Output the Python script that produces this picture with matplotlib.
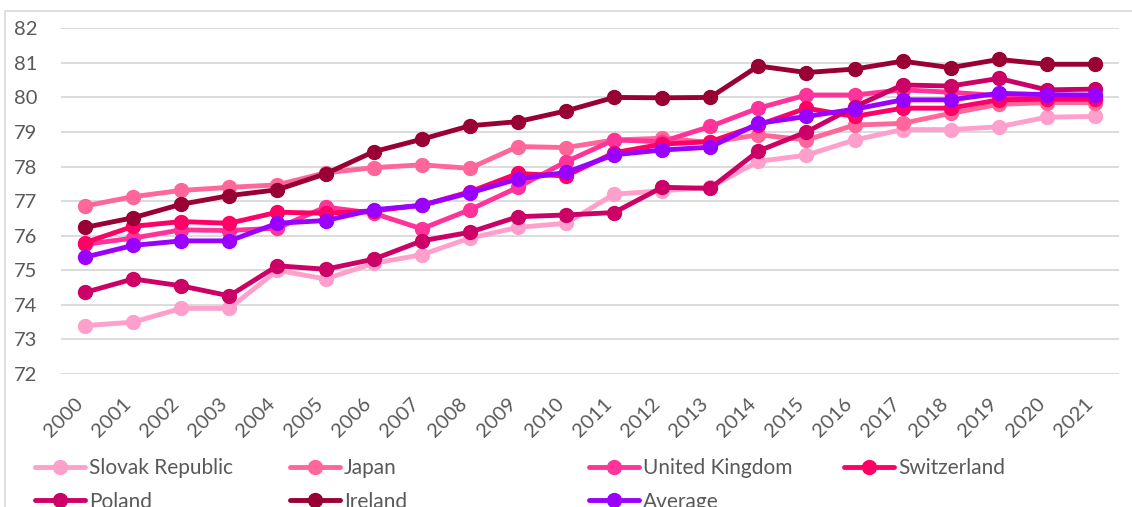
import matplotlib
matplotlib.use("Agg")
import matplotlib.pyplot as plt
from matplotlib.patches import Rectangle
from matplotlib.transforms import ScaledTranslation

plt.rcParams['font.family'] = ['Lato', 'DejaVu Sans']

years = [str(y) for y in range(2000, 2022)]

slovak = [73.4, 73.5, 73.9, 73.9, 75.0, 74.75, 75.2, 75.45, 75.93, 76.24, 76.36,
          77.2, 77.3, 77.4, 78.15, 78.33, 78.77, 79.07, 79.07, 79.15, 79.43, 79.45]
japan = [76.86, 77.13, 77.31, 77.4, 77.47, 77.82, 77.97, 78.05, 77.95, 78.58, 78.55,
         78.77, 78.82, 78.7, 78.92, 78.77, 79.2, 79.25, 79.54, 79.8, 79.85, 79.85]
uk = [75.75, 75.93, 76.17, 76.15, 76.22, 76.83, 76.65, 76.2, 76.75, 77.4, 78.14,
      78.77, 78.72, 79.16, 79.69, 80.07, 80.07, 80.22, 80.15, 80.05, 79.97, 79.97]
switzerland = [75.8, 76.27, 76.41, 76.36, 76.68, 76.65, 76.72, 76.88, 77.27, 77.8, 77.73,
               78.4, 78.65, 78.72, 79.2, 79.69, 79.45, 79.69, 79.69, 79.93, 79.95, 79.95]
poland = [74.36, 74.75, 74.55, 74.26, 75.13, 75.03, 75.32, 75.85, 76.1, 76.55, 76.6,
          76.67, 77.4, 77.37, 78.45, 79.0, 79.73, 80.36, 80.33, 80.55, 80.22, 80.24]
ireland = [76.24, 76.52, 76.91, 77.16, 77.33, 77.79, 78.43, 78.79, 79.18, 79.3, 79.61,
           80.0, 79.99, 80.0, 80.91, 80.72, 80.82, 81.05, 80.86, 81.1, 80.96, 80.96]
average = [75.38, 75.72, 75.85, 75.85, 76.36, 76.44, 76.75, 76.88, 77.24, 77.64, 77.83,
           78.34, 78.48, 78.56, 79.25, 79.45, 79.66, 79.93, 79.93, 80.12, 80.08, 80.07]

names = ["Slovak Republic", "Japan", "United Kingdom", "Switzerland",
         "Poland", "Ireland", "Average"]
series = [slovak, japan, uk, switzerland, poland, ireland, average]
colors = ["#FF9FCC", "#FF6699", "#FF3399", "#FF0066", "#CC0066", "#990033", "#9900FF"]

fig = plt.figure(figsize=(11.32, 5.07), dpi=100)
ax = fig.add_axes([61 / 1132, 1 - 374 / 507, 1058 / 1132, (374 - 28.3) / 507])

lines = {}
for name, vals, c in zip(names, series, colors):
    ln, = ax.plot(range(len(years)), vals, color=c, lw=3.5, marker="o",
                  markersize=10, label=name, solid_capstyle="round")
    lines[name] = ln

ax.set_xlim(-0.5, len(years) - 0.5)
ax.set_ylim(72, 82)
ax.set_yticks(range(72, 83))
ax.set_xticks(range(len(years)))
ax.set_xticklabels(years, rotation=45, ha="right", rotation_mode="anchor")
ax.grid(axis="y", color="#D9D9D9", lw=1.3)
ax.set_axisbelow(True)
for s in ax.spines.values():
    s.set_visible(False)
ax.tick_params(axis="y", length=0, pad=17, labelsize=14.5, labelcolor="#595959")
ax.tick_params(axis="x", length=0, pad=10, labelsize=14.5, labelcolor="#595959")
shift = ScaledTranslation(-11 / 100, -7 / 100, fig.dpi_scale_trans)
for lab in ax.get_xticklabels():
    lab.set_transform(lab.get_transform() + shift)

# chart area border, cut off at right and bottom
fig.patches.append(Rectangle((5 / 1132, -0.1), 1.2, 1 - 11 / 507 + 0.1,
                             transform=fig.transFigure, fill=False,
                             edgecolor="#D9D9D9", lw=1.2))

# legend, one block per column
cols = [(35, ["Slovak Republic", "Poland"]), (290, ["Japan", "Ireland"]),
        (589, ["United Kingdom", "Average"]), (844, ["Switzerland"])]
for x0, entries in cols:
    leg = fig.legend([lines[n] for n in entries], entries, loc="upper left",
                     bbox_to_anchor=(x0 / 1132, 1 - 458 / 507), frameon=False,
                     fontsize=15, handlelength=2.4, handletextpad=0.2,
                     borderpad=0, borderaxespad=0, labelspacing=0.65,
                     labelcolor="#595959")

fig.savefig("out.png", dpi=100)
